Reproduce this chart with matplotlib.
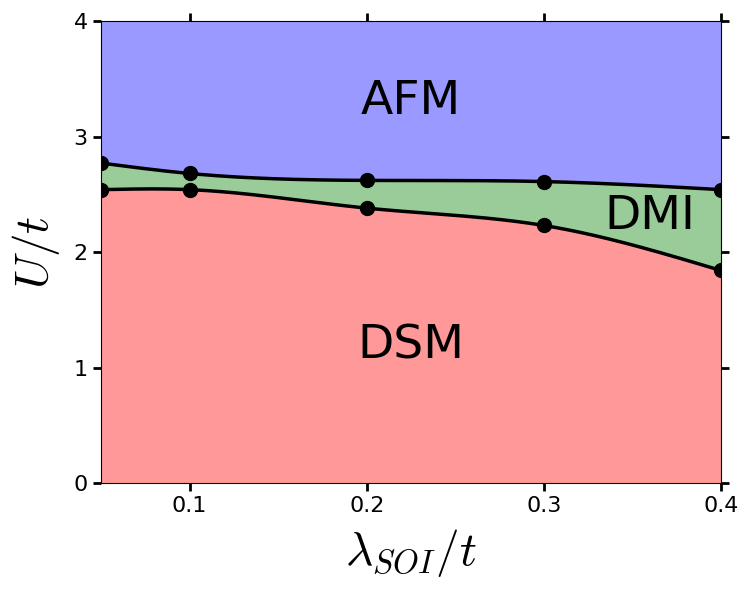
import numpy as np
import matplotlib
matplotlib.use("Agg")
import matplotlib.pyplot as plt

plt.rcParams['mathtext.fontset'] = 'cm'

# phase boundary points
lam = [0.05, 0.1, 0.2, 0.3, 0.4]
u_lower = [2.54, 2.54, 2.38, 2.23, 1.84]
u_upper = [2.77, 2.68, 2.62, 2.61, 2.54]
u_max = 4.0


def natural_spline(x, y, xs):
    # plain natural cubic spline so the boundaries look smooth
    x = np.asarray(x, float)
    y = np.asarray(y, float)
    n = len(x)
    h = np.diff(x)
    A = np.zeros((n, n))
    b = np.zeros(n)
    A[0, 0] = 1
    A[-1, -1] = 1
    for i in range(1, n - 1):
        A[i, i - 1] = h[i - 1]
        A[i, i] = 2 * (h[i - 1] + h[i])
        A[i, i + 1] = h[i]
        b[i] = 3 * ((y[i + 1] - y[i]) / h[i] - (y[i] - y[i - 1]) / h[i - 1])
    c = np.linalg.solve(A, b)
    out = np.empty_like(xs)
    for k, xv in enumerate(xs):
        i = min(max(np.searchsorted(x, xv) - 1, 0), n - 2)
        dx = xv - x[i]
        bi = (y[i + 1] - y[i]) / h[i] - h[i] * (2 * c[i] + c[i + 1]) / 3
        di = (c[i + 1] - c[i]) / (3 * h[i])
        out[k] = y[i] + bi * dx + c[i] * dx ** 2 + di * dx ** 3
    return out


xs = np.linspace(lam[0], lam[-1], 300)
low = natural_spline(lam, u_lower, xs)
up = natural_spline(lam, u_upper, xs)

fig = plt.figure(figsize=(7.5, 5.92), dpi=100)
ax = fig.add_axes([0.1347, 0.1841, 0.8266, 0.7804])

ax.fill_between(xs, 0, low, color='red', alpha=0.4, lw=0)
ax.fill_between(xs, low, up, color='green', alpha=0.4, lw=0)
ax.fill_between(xs, up, u_max, color='blue', alpha=0.4, lw=0)

ax.plot(xs, low, color='k', lw=2.5)
ax.plot(xs, up, color='k', lw=2.5)
ax.plot(lam, u_lower, 'o', color='k', ms=10)
ax.plot(lam, u_upper, 'o', color='k', ms=10)

ax.text(0.225, 3.30, 'AFM', fontsize=34, ha='center', va='center')
ax.text(0.36, 2.31, 'DMI', fontsize=34, ha='center', va='center')
ax.text(0.225, 1.19, 'DSM', fontsize=34, ha='center', va='center')

ax.set_xlim(0.05, 0.4)
ax.set_ylim(0, 4)
ax.set_xticks([0.1, 0.2, 0.3, 0.4])
ax.set_yticks([0, 1, 2, 3, 4])
ax.tick_params(direction='out', length=6, width=2, labelsize=16,
               top=True, right=True)
ax.set_xlabel(r'$\lambda_{SOI}/t$', fontsize=34, labelpad=8)
ax.set_ylabel(r'$U/t$', fontsize=34, labelpad=8)

fig.savefig('out.png', dpi=100)
